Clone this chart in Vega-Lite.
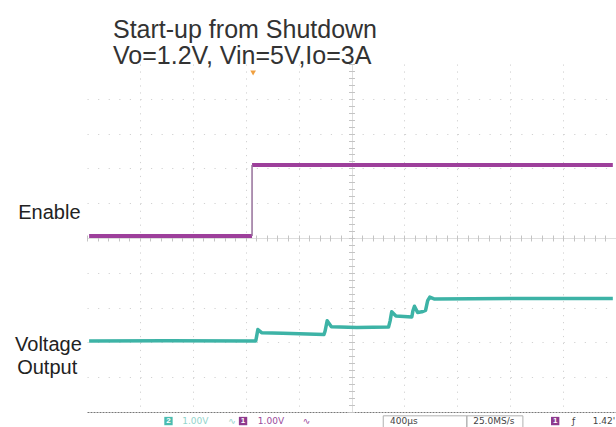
{
  "$schema": "https://vega.github.io/schema/vega-lite/v6.json",
  "width": 529,
  "height": 348,
  "autosize": "none",
  "padding": {"left": 87, "top": 64, "right": 0, "bottom": 15},
  "background": "#ffffff",
  "config": {"view": {"stroke": null}, "font": "Liberation Sans"},
  "title": {
    "text": ["Start-up from Shutdown", "Vo=1.2V, Vin=5V,Io=3A"],
    "anchor": "start",
    "frame": "group",
    "dx": 26,
    "fontSize": 25,
    "fontWeight": "normal",
    "font": "Liberation Sans",
    "color": "#333333",
    "lineHeight": 26,
    "baseline": "alphabetic",
    "offset": -25
  },
  "datasets": {
    "enable": [
      {"t": 0.04, "v": 5.06, "seg": "low"},
      {"t": 3.12, "v": 5.06, "seg": "low"},
      {"t": 3.12, "v": 7.1, "seg": "high"},
      {"t": 9.94, "v": 7.1, "seg": "high"}
    ],
    "edge": [{"t": 3.12, "v1": 5.06, "v2": 7.1}],
    "vout": [
      {"t": 0.04, "v": 2.04},
      {"t": 1.5, "v": 2.05},
      {"t": 3.19, "v": 2.04},
      {"t": 3.21, "v": 2.2},
      {"t": 3.23, "v": 2.37},
      {"t": 3.3, "v": 2.28},
      {"t": 3.7, "v": 2.26},
      {"t": 4.48, "v": 2.23},
      {"t": 4.5, "v": 2.32},
      {"t": 4.54, "v": 2.62},
      {"t": 4.62, "v": 2.45},
      {"t": 5.1, "v": 2.43},
      {"t": 5.7, "v": 2.44},
      {"t": 5.73, "v": 2.62},
      {"t": 5.76, "v": 2.88},
      {"t": 5.84, "v": 2.76},
      {"t": 6.14, "v": 2.73},
      {"t": 6.16, "v": 2.9},
      {"t": 6.19, "v": 3.04},
      {"t": 6.25, "v": 2.86},
      {"t": 6.33, "v": 2.88},
      {"t": 6.4, "v": 2.92},
      {"t": 6.44, "v": 3.2},
      {"t": 6.48, "v": 3.3},
      {"t": 6.56, "v": 3.25},
      {"t": 8.0, "v": 3.26},
      {"t": 9.94, "v": 3.26}
    ],
    "labels": [
      {"t": -1.3, "v": 5.55, "label": "Enable"},
      {"t": -1.36, "v": 1.75, "label": "Voltage"},
      {"t": -1.32, "v": 1.09, "label": "Output"}
    ],
    "trigger": [{"t": 3.14, "v": 9.74}],
    "badges": [
      {"t": 1.54, "ch": "ch2", "n": "2"},
      {"t": 2.95, "ch": "ch1", "n": "1"},
      {"t": 8.85, "ch": "ch1", "n": "1"}
    ],
    "status": [
      {"t": 1.8, "ch": "ch2", "label": "1.00V"},
      {"t": 2.67, "ch": "ch2", "label": "∿"},
      {"t": 3.23, "ch": "ch1", "label": "1.00V"},
      {"t": 4.08, "ch": "ch1", "label": "∿"},
      {"t": 5.73, "ch": "time", "label": "400µs"},
      {"t": 7.3, "ch": "time", "label": "25.0MS/s"},
      {"t": 9.17, "ch": "time", "label": "ƒ"},
      {"t": 9.56, "ch": "time", "label": "1.42'"}
    ],
    "boxes": [
      {"t1": 5.6, "t2": 7.18},
      {"t1": 7.18, "t2": 8.24}
    ]
  },
  "layer": [
    {
      "data": {"name": "enable"},
      "mark": {"type": "line", "color": "#9d3f9b", "strokeWidth": 4, "strokeCap": "butt"},
      "encoding": {
        "x": {
          "field": "t", "type": "quantitative", "scale": {"domain": [0, 10]},
          "axis": {
            "orient": "bottom", "values": [1, 2, 3, 4, 5, 6, 7, 8, 9],
            "grid": true, "gridColor": "#d2d2d2", "gridWidth": 1,
            "gridDash": {"condition": {"test": "datum.value === 5", "value": [1, 0]}, "value": [1.2, 5.76]},
            "ticks": false, "labels": false, "title": null,
            "domain": true, "domainColor": "#777777", "domainDash": [2, 1], "domainWidth": 1.2
          }
        },
        "y": {
          "field": "v", "type": "quantitative", "scale": {"domain": [0, 10]},
          "axis": {
            "orient": "left", "values": [1, 2, 3, 4, 5, 6, 7, 8, 9],
            "grid": true, "gridColor": "#d2d2d2", "gridWidth": 1,
            "gridDash": {"condition": {"test": "datum.value === 5", "value": [1, 0]}, "value": [1.2, 9.38]},
            "ticks": false, "labels": false, "title": null, "domain": false
          }
        },
        "detail": {"field": "seg", "type": "nominal"}
      }
    },
    {
      "data": {"name": "vout"},
      "mark": {"type": "line", "color": "#3db3a6", "strokeWidth": 3.5, "strokeJoin": "round"},
      "encoding": {
        "x": {
          "field": "t", "type": "quantitative", "scale": {"domain": [0, 10]},
          "axis": {"orient": "top", "offset": -177, "tickCount": 50, "tickSize": 6, "tickColor": "#c4c4c4", "domain": false, "labels": false, "grid": false, "title": null}
        },
        "y": {
          "field": "v", "type": "quantitative", "scale": {"domain": [0, 10]},
          "axis": {"orient": "right", "offset": -267.5, "tickCount": 50, "tickSize": 6, "tickColor": "#c4c4c4", "domain": false, "labels": false, "grid": false, "title": null}
        }
      }
    },
    {
      "data": {"name": "edge"},
      "mark": {"type": "rule", "color": "#96709a", "strokeWidth": 1.5},
      "encoding": {
        "x": {"field": "t", "type": "quantitative", "scale": {"domain": [0, 10]}, "axis": null},
        "y": {"field": "v1", "type": "quantitative", "scale": {"domain": [0, 10]}, "axis": null},
        "y2": {"field": "v2"}
      }
    },
    {
      "data": {"name": "trigger"},
      "mark": {"type": "point", "shape": "triangle-down", "filled": true, "color": "#f0a040", "size": 32, "opacity": 1},
      "encoding": {
        "x": {"field": "t", "type": "quantitative", "scale": {"domain": [0, 10]}, "axis": null},
        "y": {"field": "v", "type": "quantitative", "scale": {"domain": [0, 10]}, "axis": null}
      }
    },
    {
      "data": {"name": "labels"},
      "mark": {"type": "text", "align": "left", "baseline": "alphabetic", "fontSize": 20, "font": "Liberation Sans", "color": "#222222"},
      "encoding": {
        "x": {"field": "t", "type": "quantitative", "scale": {"domain": [0, 10]}, "axis": null},
        "y": {"field": "v", "type": "quantitative", "scale": {"domain": [0, 10]}, "axis": null},
        "text": {"field": "label"}
      }
    },
    {
      "data": {"name": "boxes"},
      "transform": [{"calculate": "-0.11", "as": "b1"}, {"calculate": "-0.5", "as": "b2"}],
      "mark": {"type": "rect", "fill": null, "stroke": "#b0b0b0", "strokeWidth": 1},
      "encoding": {
        "x": {"field": "t1", "type": "quantitative", "scale": {"domain": [0, 10]}, "axis": null},
        "x2": {"field": "t2"},
        "y": {"field": "b1", "type": "quantitative", "scale": {"domain": [0, 10]}, "axis": null},
        "y2": {"field": "b2"}
      }
    },
    {
      "data": {"name": "badges"},
      "transform": [{"calculate": "-0.26", "as": "sy"}],
      "mark": {"type": "point", "shape": "square", "filled": true, "size": 70, "opacity": 1},
      "encoding": {
        "x": {"field": "t", "type": "quantitative", "scale": {"domain": [0, 10]}, "axis": null},
        "y": {"field": "sy", "type": "quantitative", "scale": {"domain": [0, 10]}, "axis": null},
        "color": {"field": "ch", "type": "nominal", "scale": {"domain": ["ch2", "ch1"], "range": ["#4bbcb0", "#8e3a8e"]}, "legend": null}
      }
    },
    {
      "data": {"name": "badges"},
      "transform": [{"calculate": "-0.26", "as": "sy"}],
      "mark": {"type": "text", "fontSize": 8, "fontWeight": "bold", "color": "#ffffff", "baseline": "middle"},
      "encoding": {
        "x": {"field": "t", "type": "quantitative", "scale": {"domain": [0, 10]}, "axis": null},
        "y": {"field": "sy", "type": "quantitative", "scale": {"domain": [0, 10]}, "axis": null},
        "text": {"field": "n"}
      }
    },
    {
      "data": {"name": "status"},
      "transform": [{"calculate": "-0.26", "as": "sy"}],
      "mark": {"type": "text", "fontSize": 9, "align": "left", "baseline": "middle", "font": "DejaVu Sans"},
      "encoding": {
        "x": {"field": "t", "type": "quantitative", "scale": {"domain": [0, 10]}, "axis": null},
        "y": {"field": "sy", "type": "quantitative", "scale": {"domain": [0, 10]}, "axis": null},
        "text": {"field": "label"},
        "color": {"field": "ch", "type": "nominal", "scale": {"domain": ["ch2", "ch1", "time"], "range": ["#93d4cc", "#9b4a9b", "#444444"]}, "legend": null}
      }
    }
  ],
  "resolve": {"axis": {"x": "independent", "y": "independent"}, "scale": {"color": "independent"}}
}
